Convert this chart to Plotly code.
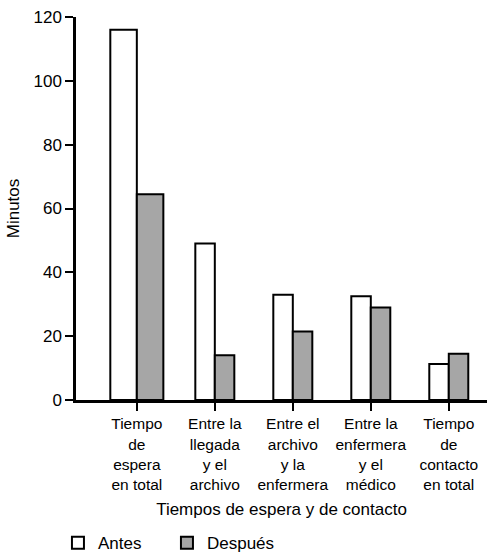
import plotly.graph_objects as go

categories = [
    "Tiempo<br>de<br>espera<br>en total",
    "Entre la<br>llegada<br>y el<br>archivo",
    "Entre el<br>archivo<br>y la<br>enfermera",
    "Entre la<br>enfermera<br>y el<br>médico",
    "Tiempo<br>de<br>contacto<br>en total",
]
antes = [116, 49, 33, 32.5, 11.3]
despues = [64.5, 14, 21.5, 29, 14.5]
y_ticks = [0, 20, 40, 60, 80, 100, 120]

# bar widths (style): first group drawn wider, as in the original
bar_w = [0.34, 0.25, 0.25, 0.25, 0.25]

FONT = "Liberation Sans, Arial, sans-serif"
xpos = list(range(len(categories)))

fig = go.Figure()
fig.add_trace(go.Bar(
    name="Antes", x=xpos, y=antes, width=bar_w,
    offset=[-w for w in bar_w],
    marker=dict(color="white", line=dict(color="black", width=2)),
))
fig.add_trace(go.Bar(
    name="Después", x=xpos, y=despues, width=bar_w,
    offset=[0 for _ in bar_w],
    marker=dict(color="#aaaaaa", line=dict(color="black", width=2),
                pattern=dict(shape=".", fgcolor="#555555", bgcolor="#bdbdbd",
                             size=2, solidity=0.5)),
))

fig.update_layout(
    width=487, height=552,
    margin=dict(l=76, r=0, t=17, b=152),
    paper_bgcolor="white", plot_bgcolor="white",
    barmode="overlay",
    font=dict(family=FONT, size=16, color="black"),
    showlegend=True,
    legend=dict(orientation="h", xref="container", yref="container",
                x=0.119, y=0.016, xanchor="left", yanchor="middle",
                entrywidth=64, font=dict(size=17), traceorder="normal",
                itemwidth=30, tracegroupgap=0, bgcolor="rgba(0,0,0,0)"),
    xaxis=dict(
        range=[-0.78, 4.49], tickmode="array",
        tickvals=xpos, ticktext=categories,
        showline=True, linecolor="black", linewidth=2.5,
        ticks="outside", ticklen=8, tickwidth=2, tickcolor="black",
        showgrid=False, zeroline=False,
        title=dict(text="Tiempos de espera y de contacto", standoff=12,
                   font=dict(size=17)),
        tickfont=dict(size=15.5),
    ),
    yaxis=dict(
        range=[0, 120], tickmode="array", tickvals=y_ticks,
        showline=True, linecolor="black", linewidth=2.5,
        ticks="outside", ticklen=8, tickwidth=2, tickcolor="black",
        showgrid=False, zeroline=False,
        title=dict(text="Minutos", standoff=10, font=dict(size=17)),
        tickfont=dict(size=17),
    ),
)

fig.write_html(
    "out.html",
    config={"displayModeBar": False},
    post_script="document.body.style.margin='0';document.body.style.overflow='hidden';",
)
